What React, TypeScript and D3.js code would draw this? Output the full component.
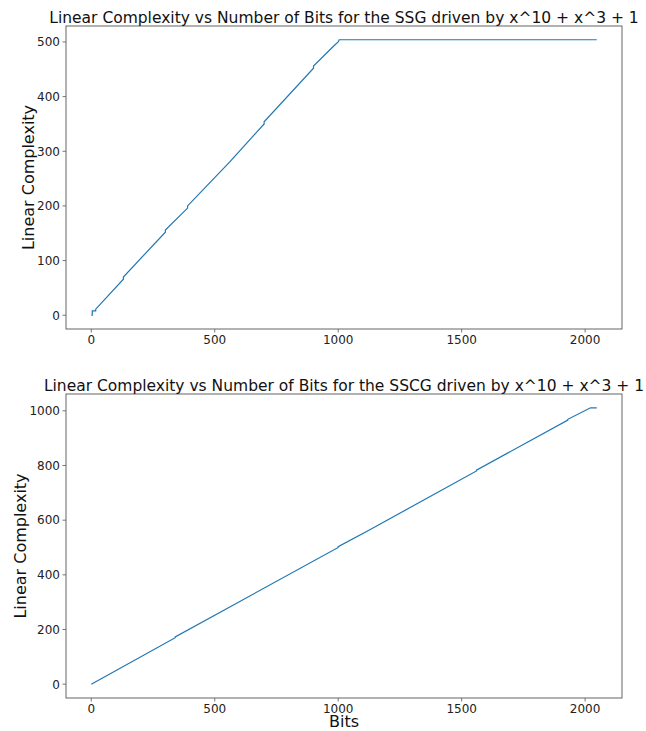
import React, { useEffect, useRef } from "react";
import * as d3 from "d3";

// SSG profile: knots (repeated bits = small vertical jump)
const ssgBits = [0, 4, 4, 18, 18, 130, 130, 300, 300, 390, 390, 560, 700, 700, 900, 900, 985, 1000, 1004, 2047];
const ssgComplexity = [0, 0, 8, 8, 11, 66, 70, 152, 156, 196, 200, 280, 350, 354, 452, 456, 494, 500, 504, 504];

// SSCG profile
const sscgBits = [0, 340, 340, 1000, 1000, 1130, 1560, 1560, 1930, 1930, 2022, 2047];
const sscgComplexity = [0, 170, 173, 500, 503, 566, 780, 783, 966, 969, 1011, 1011];

const xTicks = [0, 500, 1000, 1500, 2000];
const ssgYTicks = [0, 100, 200, 300, 400, 500];
const sscgYTicks = [0, 200, 400, 600, 800, 1000];

const titles = [
  "Linear Complexity vs Number of Bits for the SSG driven by x^10 + x^3 + 1",
  "Linear Complexity vs Number of Bits for the SSCG driven by x^10 + x^3 + 1",
];

const W = 646;
const H = 731;
const FONT = "DejaVu Sans, sans-serif";

function pad(lo: number, hi: number): [number, number] {
  const m = (hi - lo) * 0.05;
  return [lo - m, hi + m];
}

export default function App() {
  const svgRef = useRef<SVGSVGElement | null>(null);

  useEffect(() => {
    if (!svgRef.current) return;
    const svg = d3.select(svgRef.current);
    svg.selectAll("*").remove();

    const panels = [
      { bits: ssgBits, lc: ssgComplexity, yTicks: ssgYTicks, top: 26, bottom: 329, title: titles[0], ylabX: 34, xlabel: false },
      { bits: sscgBits, lc: sscgComplexity, yTicks: sscgYTicks, top: 394, bottom: 698, title: titles[1], ylabX: 26, xlabel: true },
    ];
    const left = 66;
    const right = 622;

    panels.forEach((p) => {
      const x = d3.scaleLinear().domain(pad(d3.min(p.bits)!, d3.max(p.bits)!)).range([left, right]);
      const y = d3.scaleLinear().domain(pad(d3.min(p.lc)!, d3.max(p.lc)!)).range([p.bottom, p.top]);
      const g = svg.append("g");

      const pts = p.bits.map((b, i) => [b, p.lc[i]] as [number, number]);
      const line = d3.line<[number, number]>().x((d) => x(d[0])).y((d) => y(d[1]));
      g.append("path")
        .attr("d", line(pts)!)
        .attr("fill", "none")
        .attr("stroke", "#1f77b4")
        .attr("stroke-width", 1.2);

      // frame
      g.append("rect")
        .attr("x", left)
        .attr("y", p.top)
        .attr("width", right - left)
        .attr("height", p.bottom - p.top)
        .attr("fill", "none")
        .attr("stroke", "#555")
        .attr("stroke-width", 0.9);

      // x ticks
      xTicks.forEach((t) => {
        g.append("line")
          .attr("x1", x(t)).attr("x2", x(t))
          .attr("y1", p.bottom).attr("y2", p.bottom + 3.5)
          .attr("stroke", "#555").attr("stroke-width", 0.8);
        g.append("text")
          .attr("x", x(t))
          .attr("y", p.bottom + 15)
          .attr("text-anchor", "middle")
          .style("font-family", FONT)
          .style("font-size", "12px")
          .style("fill", "#222")
          .text(t);
      });

      // y ticks
      p.yTicks.forEach((t) => {
        g.append("line")
          .attr("x1", left - 3.5).attr("x2", left)
          .attr("y1", y(t)).attr("y2", y(t))
          .attr("stroke", "#555").attr("stroke-width", 0.8);
        g.append("text")
          .attr("x", left - 6)
          .attr("y", y(t))
          .attr("dy", "0.36em")
          .attr("text-anchor", "end")
          .style("font-family", FONT)
          .style("font-size", "12px")
          .style("fill", "#222")
          .text(t);
      });

      g.append("text")
        .attr("x", (left + right) / 2)
        .attr("y", p.top - 3.5)
        .attr("text-anchor", "middle")
        .style("font-family", FONT)
        .style("font-size", "15.5px")
        .style("fill", "#111")
        .text(p.title);

      g.append("text")
        .attr("transform", `translate(${p.ylabX},${(p.top + p.bottom) / 2}) rotate(-90)`)
        .attr("text-anchor", "middle")
        .style("font-family", FONT)
        .style("font-size", "16px")
        .style("fill", "#111")
        .text("Linear Complexity");

      if (p.xlabel) {
        g.append("text")
          .attr("x", (left + right) / 2)
          .attr("y", 727)
          .attr("text-anchor", "middle")
          .style("font-family", FONT)
          .style("font-size", "16px")
          .style("fill", "#111")
          .text("Bits");
      }
    });
  }, []);

  return (
    <svg
      ref={svgRef}
      width={W}
      height={H}
      style={{ position: "absolute", left: 0, top: 0, background: "#fff" }}
    />
  );
}
